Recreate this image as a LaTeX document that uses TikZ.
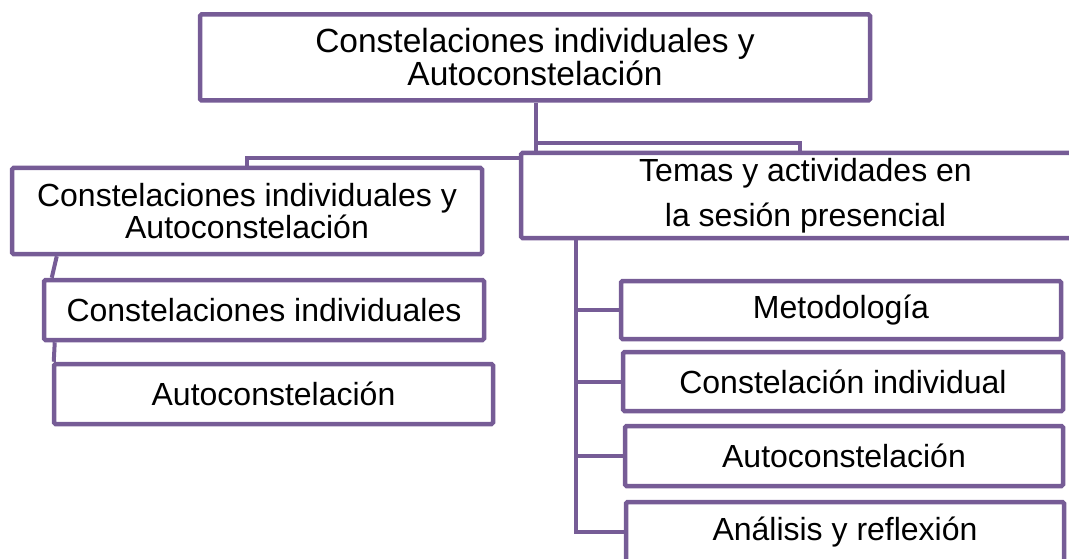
\documentclass[tikz,border=0pt]{standalone}
\usepackage{fontspec}
\setmainfont{Liberation Sans}
\definecolor{pur}{RGB}{118,92,150}
\begin{document}
\begin{tikzpicture}[x=1pt,y=-1pt,
  box/.style={draw=pur, line width=4.5pt, rectangle, inner sep=0pt, align=center, rounded corners=1.5pt,
    font=\fontsize{32}{32}\selectfont},
  conn/.style={draw=pur, line width=4pt}]
\useasboundingbox (0,0) rectangle (1069,559);
\clip (0,0) rectangle (1069,559);
% boxes
\node[box, minimum width=670pt, minimum height=86pt, font=\fontsize{33.5}{33}\selectfont] (top) at (535,57.5)
  {Constelaciones individuales y\\Autoconstelación};
\node[box, minimum width=470pt, minimum height=86pt] (l1) at (247,211)
  {Constelaciones individuales y\\Autoconstelación};
\node[box, minimum width=440pt, minimum height=60pt] (l2) at (264,310) {Constelaciones individuales};
\node[box, minimum width=439pt, minimum height=60pt] (l3) at (273.5,394) {Autoconstelación};
\node[box, minimum width=569pt, minimum height=85pt, font=\fontsize{32}{45}\selectfont] (temas) at (805.5,195.5)
  {Temas y actividades en\\la sesión presencial};
\node[box, minimum width=440pt, minimum height=58pt] (m1) at (841,310) {Metodología};
\node[box, minimum width=440pt, minimum height=59pt] (m2) at (843,381.5) {Constelación individual};
\node[box, minimum width=438pt, minimum height=60pt] (m3) at (844,456) {Autoconstelación};
\node[box, minimum width=438pt, minimum height=60pt] (m4) at (845,532) {Análisis y reflexión};
% connectors
\coordinate (j1) at (536,143);
\coordinate (j2) at (800,143);
\coordinate (j3) at (247,158);
\coordinate (rv) at (576,0);
\draw[conn] (top.south -| j1) -- (j1 |- temas.north);
\draw[conn] (j1) -- (j2) -- (j2 |- temas.north);
\draw[conn] (temas.west |- j3) -- (j3) -- (j3 |- l1.north);
\draw[conn] ([xshift=47pt]l1.south west) -- ([xshift=10pt]l2.north west);
\draw[conn] ([xshift=13pt]l2.south west) -- ([xshift=2pt]l3.north west);
\draw[conn] (temas.south -| rv) |- (m4.west);
\draw[conn] (rv |- m1.west) -- (m1.west);
\draw[conn] (rv |- m2.west) -- (m2.west);
\draw[conn] (rv |- m3.west) -- (m3.west);
\end{tikzpicture}
\end{document}
